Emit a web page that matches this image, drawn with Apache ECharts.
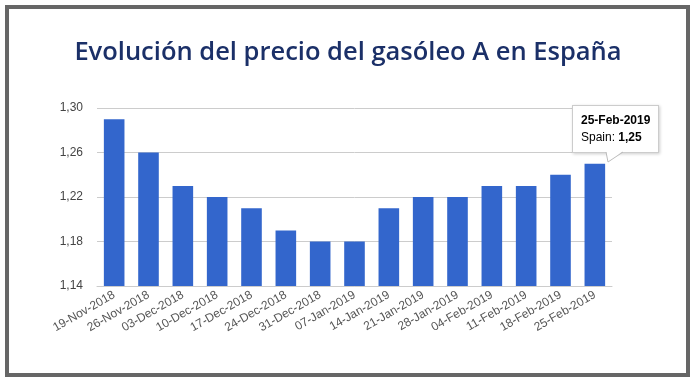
<!DOCTYPE html>
<html><head><meta charset="utf-8">
<script src="https://cdn.jsdelivr.net/npm/echarts@6/dist/echarts.min.js"></script>
<style>
html,body{margin:0;padding:0;background:#fff;width:696px;height:384px;overflow:hidden}
#frame{position:absolute;left:5px;top:5px;width:677px;height:364px;border:4px solid #666;box-sizing:content-box;}
#main{position:absolute;left:0;top:0;width:696px;height:384px;}
</style></head>
<body>
<div id="frame"></div>
<div id="main"></div>
<script>
const categories = ['19-Nov-2018','26-Nov-2018','03-Dec-2018','10-Dec-2018','17-Dec-2018','24-Dec-2018','31-Dec-2018','07-Jan-2019','14-Jan-2019','21-Jan-2019','28-Jan-2019','04-Feb-2019','11-Feb-2019','18-Feb-2019','25-Feb-2019'];
const spainPrice = [1.29,1.26,1.23,1.22,1.21,1.19,1.18,1.18,1.21,1.22,1.22,1.23,1.23,1.24,1.25];
const yTicks = [1.14,1.18,1.22,1.26,1.30];
const seriesName = 'Spain';
const titleText = 'Evolución del precio del gasóleo A en España';

const fmt = v => v.toFixed(2).replace('.', ',');
const tail = '<svg style="position:absolute;left:32px;top:100%;margin-top:-1px;overflow:visible" width="20" height="13">'+
  '<polygon points="1,0 3,11 18,0" fill="#fff"/>'+
  '<polyline points="1,1 3,11 18,1" fill="none" stroke="#bbb" stroke-width="1"/></svg>';
const chart = echarts.init(document.getElementById('main'), null, {renderer:'canvas'});
chart.setOption({
  animation:false,
  title:{text:titleText,left:'center',top:35,textStyle:{fontFamily:'Open Sans',fontSize:25.5,fontWeight:600,color:'#1b3068'}},
  grid:{left:97,right:84,top:108,bottom:98,containLabel:false},
  tooltip:{
    trigger:'item',
    alwaysShowContent:true,
    showDelay:0,hideDelay:0,transitionDuration:0,
    backgroundColor:'#fff',borderColor:'#ccc',borderWidth:1,padding:[6,8],
    extraCssText:'border-radius:0;box-shadow:1px 1px 3px rgba(0,0,0,0.2);overflow:visible;',
    textStyle:{fontFamily:'Arial, Liberation Sans',fontSize:12,color:'#000'},
    formatter:p=>'<div style="line-height:17px"><b>'+p.name+'</b><br>'+p.seriesName+': <b>'+fmt(p.value)+'</b></div>'+tail,
    position:function(point, params, dom, rect, size){
      return [rect.x + rect.width/2 - 23, rect.y - 11 - size.contentSize[1]];
    }
  },
  xAxis:{
    type:'category',data:categories,
    axisLine:{show:true,lineStyle:{color:'#ccc'}},axisTick:{show:false},
    axisLabel:{rotate:30,interval:0,fontFamily:'Arial, Liberation Sans',fontSize:12,color:'#555',margin:8}
  },
  yAxis:{
    type:'value',min:1.14,max:1.30,interval:0.04,
    axisLine:{show:false},axisTick:{show:false},
    splitLine:{lineStyle:{color:'#ccc'}},
    axisLabel:{formatter:v=>fmt(v),fontFamily:'Arial, Liberation Sans',fontSize:12,color:'#444',margin:14}
  },
  series:[{name:seriesName,type:'bar',data:spainPrice,barCategoryGap:'40%',itemStyle:{color:'#3366cc'}}]
});
chart.dispatchAction({type:'showTip',seriesIndex:0,dataIndex:14});
</script>
</body></html>
